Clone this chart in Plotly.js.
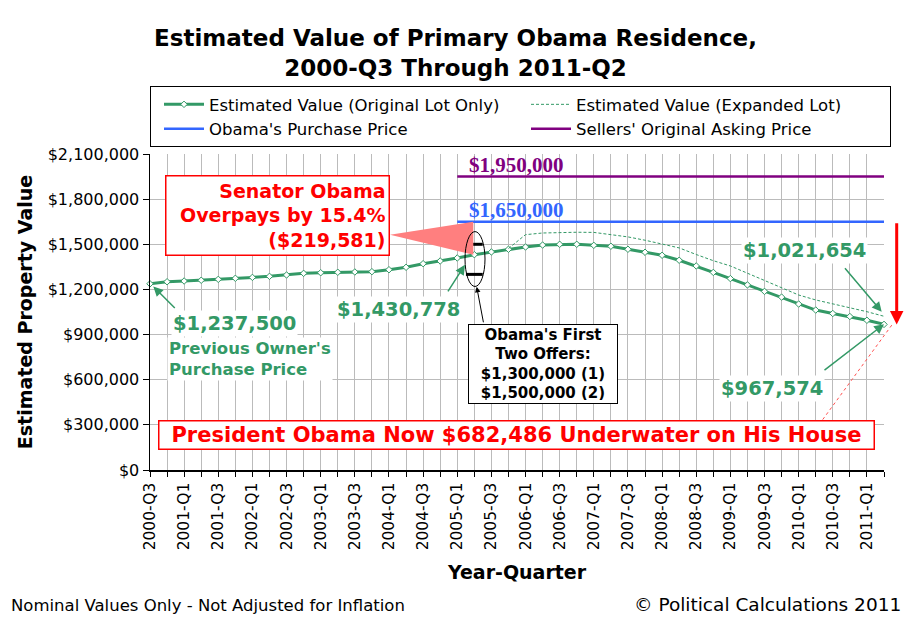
<!DOCTYPE html>
<html>
<head>
<meta charset="utf-8">
<script src="https://cdn.plot.ly/plotly-3.0.1.min.js"></script>
<style>
  html, body { margin: 0; padding: 0; background: #fff; }
  #chart { width: 911px; height: 623px; }
</style>
</head>
<body>
<div id="chart"></div>
<script>
// ---------------- DATA ----------------
const quarters = [
  '2000-Q3','2000-Q4',
  '2001-Q1','2001-Q2','2001-Q3','2001-Q4',
  '2002-Q1','2002-Q2','2002-Q3','2002-Q4',
  '2003-Q1','2003-Q2','2003-Q3','2003-Q4',
  '2004-Q1','2004-Q2','2004-Q3','2004-Q4',
  '2005-Q1','2005-Q2','2005-Q3','2005-Q4',
  '2006-Q1','2006-Q2','2006-Q3','2006-Q4',
  '2007-Q1','2007-Q2','2007-Q3','2007-Q4',
  '2008-Q1','2008-Q2','2008-Q3','2008-Q4',
  '2009-Q1','2009-Q2','2009-Q3','2009-Q4',
  '2010-Q1','2010-Q2','2010-Q3','2010-Q4',
  '2011-Q1','2011-Q2'
];
const originalLot = [
  1237500, 1251000, 1256000, 1261000, 1267000, 1274000, 1280000, 1287000,
  1296000, 1307000, 1311000, 1314000, 1316000, 1318000, 1331000, 1347000,
  1371000, 1389000, 1409000, 1430778, 1449000, 1467000, 1482000, 1495000,
  1500000, 1500000, 1493000, 1487000, 1467000, 1447000, 1427000, 1394000,
  1356000, 1313000, 1272000, 1230000, 1187000, 1149000, 1103000, 1063000,
  1040000, 1020000, 995000, 967574
];
const expandedLot = [
  null, null, null, null, null, null, null, null,
  null, null, null, null, null, null, null, null,
  null, null, null, null, null, 1472000, 1564000, 1575000,
  1580000, 1580000, 1579000, 1566000, 1549000, 1527000, 1504000, 1476000,
  1432000, 1391000, 1356000, 1307000, 1258000, 1207000, 1163000, 1130000,
  1103000, 1081000, 1052000, 1021654
];
const purchasePrice = 1650000;
const askingPrice = 1950000;
const priceLineStart = '2005-Q1';
const purchaseQuarter = '2005-Q2';
const offers = [1300000, 1500000];
const overpayPct = '15.4%';
const overpayAmount = 219581;
const underwaterAmount = 682486;
const yTicks = [0, 300000, 600000, 900000, 1200000, 1500000, 1800000, 2100000];

// ---------------- HELPERS ----------------
const green = '#339966';
const idx = quarters.map((q, i) => i);
const last = idx.length - 1;
const iStart = quarters.indexOf(priceLineStart);
const iBuy = quarters.indexOf(purchaseQuarter);
const money = v => '$' + v.toLocaleString('en-US');
const L = 150, T = 154, W = 734, H = 316.5;
const xp = p => (p - L) / W;               // pixel -> paper x
const yp = p => (T + H - p) / H;           // pixel -> paper y
const xd = p => (p - L) / W * last;        // pixel -> data x
const yd = p => (T + H - p) / H * 2100000; // pixel -> data y

const sans = 'DejaVu Sans, Verdana, sans-serif';
const serif = 'Liberation Serif, Times New Roman, serif';

// ---------------- TRACES ----------------
const traces = [
  {
    x: idx, y: originalLot, type: 'scatter', mode: 'lines+markers',
    name: 'Estimated Value (Original Lot Only)',
    line: { color: green, width: 3 },
    marker: { symbol: 'diamond', size: 5, color: 'white', line: { color: green, width: 1 } },
    cliponaxis: false
  },
  {
    x: idx, y: expandedLot, type: 'scatter', mode: 'lines',
    name: 'Estimated Value (Expanded Lot)',
    line: { color: green, width: 1, dash: '3px,2px' },
    connectgaps: false
  },
  {
    x: [iStart, last], y: [purchasePrice, purchasePrice], type: 'scatter', mode: 'lines',
    name: "Obama's Purchase Price",
    line: { color: '#3366FF', width: 2.5 }
  },
  {
    x: [iStart, last], y: [askingPrice, askingPrice], type: 'scatter', mode: 'lines',
    name: "Sellers' Original Asking Price",
    line: { color: '#800080', width: 2.5 }
  },
  {
    x: offers.map(() => iBuy), y: offers, type: 'scatter', mode: 'markers',
    showlegend: false, hoverinfo: 'skip',
    marker: { symbol: 'line-ew', size: 12, line: { color: '#000', width: 3 } }
  }
];

// ---------------- ANNOTATIONS ----------------
const gfont = { family: sans, size: 19.5, color: green, weight: 'bold' };
const garrow = { text: '', showarrow: true, arrowhead: 2, arrowsize: 1.3, arrowwidth: 1.5, arrowcolor: green,
                 xref: 'x', yref: 'y', axref: 'pixel', ayref: 'pixel' };
const annotations = [
  // Senator box
  { xref: 'paper', yref: 'paper', x: xp(164.5), y: yp(216), xanchor: 'left', yanchor: 'middle',
    width: 216, height: 72,
    text: 'Senator Obama<br>Overpays by ' + overpayPct + '<br>(' + money(overpayAmount) + ')', align: 'right', showarrow: false,
    font: { family: sans, size: 19, color: '#FF0000', weight: 'bold' },
    bgcolor: 'white', bordercolor: '#FF0000', borderwidth: 1.5, borderpad: 3 },
  // $1,950,000 label
  { xref: 'x', yref: 'y', x: iStart, y: askingPrice, xanchor: 'left', yanchor: 'bottom', xshift: 10, yshift: -2,
    text: money(askingPrice), showarrow: false,
    font: { family: serif, size: 21, color: '#800080', weight: 'bold' } },
  // $1,650,000 label
  { xref: 'x', yref: 'y', x: iStart, y: purchasePrice, xanchor: 'left', yanchor: 'bottom', xshift: 10, yshift: -2,
    text: money(purchasePrice), showarrow: false,
    font: { family: serif, size: 21, color: '#3366FF', weight: 'bold' } },
  // $1,430,778 label + arrow
  { xref: 'paper', yref: 'paper', x: xp(398), y: yp(310), xanchor: 'center', yanchor: 'middle',
    text: money(originalLot[iBuy]), showarrow: false, bgcolor: 'white', font: gfont },
  Object.assign({}, garrow, { x: xd(465), y: yd(265), ax: -18, ay: 28 }),
  // $1,237,500 label + caption + arrow
  { xref: 'paper', yref: 'paper', x: xp(234), y: yp(324), xanchor: 'center', yanchor: 'middle',
    text: money(originalLot[0]), showarrow: false, bgcolor: 'white', font: gfont },
  { xref: 'paper', yref: 'paper', x: xp(167), y: yp(359), xanchor: 'left', yanchor: 'middle',
    text: "Previous Owner's<br>Purchase Price", align: 'left', showarrow: false, bgcolor: 'white',
    font: { family: sans, size: 16.5, color: green, weight: 'bold' } },
  Object.assign({}, garrow, { x: xd(153.3), y: yd(286.7), ax: 23, ay: 23 }),
  // $1,021,654 label + arrow
  { xref: 'paper', yref: 'paper', x: xp(804), y: yp(251), xanchor: 'center', yanchor: 'middle',
    text: money(expandedLot[last]), showarrow: false, bgcolor: 'white', font: gfont },
  Object.assign({}, garrow, { x: xd(881.7), y: yd(312), ax: -38, ay: -45 }),
  // $967,574 label + arrow
  { xref: 'paper', yref: 'paper', x: xp(772), y: yp(389), xanchor: 'center', yanchor: 'middle',
    text: money(originalLot[last]), showarrow: false, bgcolor: 'white', font: gfont },
  Object.assign({}, garrow, { x: xd(884), y: yd(324.5), ax: -61, ay: 47 }),
  // Offers box + arrow
  { xref: 'paper', yref: 'paper', x: xp(543), y: yp(364), xanchor: 'center', yanchor: 'middle',
    width: 142, height: 72,
    text: "Obama's First<br>Two Offers:<br>" + offers.map((v, i) => money(v) + ' (' + (i + 1) + ')').join('<br>'),
    align: 'center', showarrow: false, bgcolor: 'white', bordercolor: '#000', borderwidth: 1, borderpad: 3,
    font: { family: sans, size: 15, color: '#000', weight: 'bold' } },
  { xref: 'x', yref: 'y', x: xd(476.7), y: yd(287), axref: 'pixel', ayref: 'pixel', ax: 7, ay: 37,
    text: '', showarrow: true, arrowhead: 2, arrowsize: 1.1, arrowwidth: 1, arrowcolor: '#000' },
  // President box
  { xref: 'paper', yref: 'paper', x: xp(516), y: yp(435), xanchor: 'center', yanchor: 'middle',
    width: 710, height: 23,
    text: 'President Obama Now ' + money(underwaterAmount) + ' Underwater on His House',
    showarrow: false, bgcolor: 'white', bordercolor: '#FF0000', borderwidth: 1.5, borderpad: 2,
    font: { family: sans, size: 21, color: '#FF0000', weight: 'bold' } },
  // Red drop arrow (purchase price down to latest value)
  { xref: 'paper', yref: 'y', x: xp(896.7), y: originalLot[last], axref: 'pixel', ax: 0, ayref: 'y', ay: purchasePrice,
    text: '', showarrow: true, arrowhead: 2, arrowsize: 0.9, arrowwidth: 3, arrowcolor: '#FF0000' },
  // Footer
  { xref: 'paper', yref: 'paper', x: xp(9), y: yp(606), xanchor: 'left', yanchor: 'middle',
    text: 'Nominal Values Only - Not Adjusted for Inflation', showarrow: false,
    font: { family: sans, size: 16.5, color: '#000' } },
  { xref: 'paper', yref: 'paper', x: xp(903), y: yp(605), xanchor: 'right', yanchor: 'middle',
    text: '© Political Calculations 2011', showarrow: false,
    font: { family: sans, size: 18.5, color: '#000' } }
];

// ---------------- SHAPES ----------------
const shapes = [
  // pink wedge
  { type: 'path', xref: 'x', yref: 'y', layer: 'above',
    path: 'M ' + xd(390) + ' ' + yd(235) + ' L ' + xd(473.3) + ' ' + purchasePrice + ' L ' + xd(473.3) + ' ' + originalLot[iBuy] + ' Z',
    fillcolor: '#FF7F7F', line: { width: 0 } },
  // ellipse around offers
  { type: 'circle', xref: 'x', yref: 'y', x0: xd(465), x1: xd(485), y0: yd(286.7), y1: yd(231.7),
    line: { color: '#000', width: 1 }, layer: 'above' },
  // red dotted line
  { type: 'line', xref: 'paper', yref: 'paper', x0: xp(822.7), y0: yp(420), x1: xp(893.3), y1: yp(323.3),
    line: { color: '#FF5050', width: 1, dash: 'dot' } }
];

// ---------------- LAYOUT ----------------
const layout = {
  width: 911, height: 623,
  margin: { l: L, r: 911 - L - W, t: T, b: 623 - T - H },
  paper_bgcolor: 'white', plot_bgcolor: 'white',
  font: { family: sans, size: 16, color: '#000' },
  title: {
    text: '<b>Estimated Value of Primary Obama Residence,<br>2000-Q3 Through 2011-Q2</b>',
    xref: 'container', x: 455.5 / 911, xanchor: 'center',
    yref: 'container', y: 1 - 46 / 623, yanchor: 'top',
    font: { family: sans, size: 23, color: '#000' }
  },
  showlegend: true,
  legend: {
    orientation: 'h', xref: 'paper', yref: 'paper', x: 0, xanchor: 'left', y: yp(86), yanchor: 'top',
    bordercolor: '#000', borderwidth: 1, bgcolor: 'white',
    font: { family: sans, size: 16.5, color: '#000' },
    entrywidth: 0.5, entrywidthmode: 'fraction', itemwidth: 40, indentation: 8, tracegroupgap: 0
  },
  xaxis: {
    range: [0, last], tickmode: 'array', tickvals: idx,
    ticktext: quarters.map((q, i) => (i % 2 === 0 ? q : '')),
    tickangle: -90, tickfont: { family: sans, size: 15.5, color: '#000' },
    ticks: 'outside', ticklen: 5, tickcolor: '#000',
    showgrid: true, gridcolor: '#BBBBBB', gridwidth: 1,
    showline: true, linecolor: '#000', linewidth: 1.5, zeroline: false,
    title: { text: '<b>Year-Quarter</b>', font: { family: sans, size: 19, color: '#000' }, standoff: 16 }
  },
  yaxis: {
    range: [0, 2100000], tickmode: 'array', tickvals: yTicks, ticktext: yTicks.map(money),
    tickfont: { family: sans, size: 16, color: '#000' },
    ticks: 'outside', ticklen: 6, tickcolor: '#000',
    showgrid: true, gridcolor: '#BBBBBB', gridwidth: 1,
    showline: true, linecolor: '#000', linewidth: 1.5, zeroline: false,
    title: { text: '<b>Estimated Property Value</b>', font: { family: sans, size: 19, color: '#000' }, standoff: 10 }
  },
  annotations: annotations,
  shapes: shapes
};

Plotly.newPlot('chart', traces, layout, { displayModeBar: false, staticPlot: true });
</script>
</body>
</html>
